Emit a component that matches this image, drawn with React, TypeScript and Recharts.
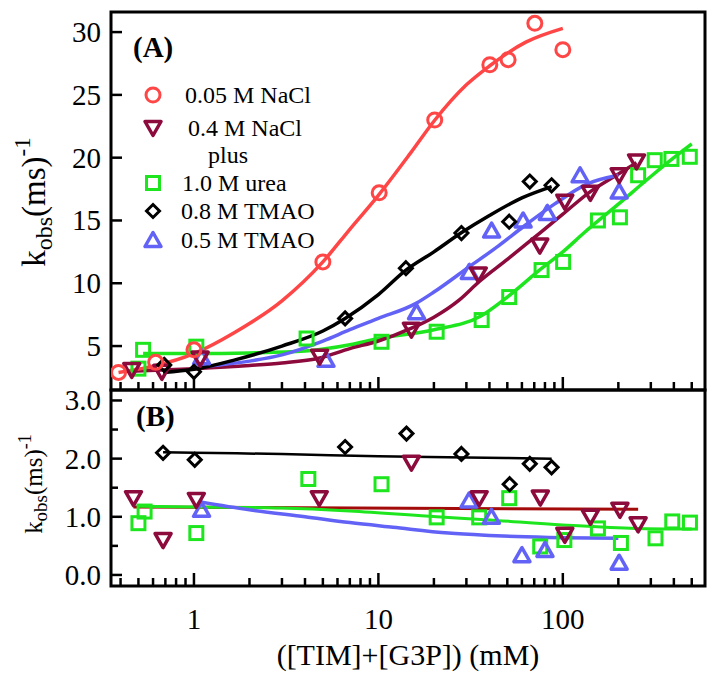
import React from 'react';
import { ComposedChart, Line, Scatter, XAxis, YAxis, ReferenceArea } from 'recharts';

const FONT = '"Liberation Serif", "Times New Roman", serif';

// x axis (log), shared by both panels
const X_MIN = 0.355;
const X_MAX = 590;
const xTicks = [0.4, 0.5, 0.6, 0.7, 0.8, 0.9, 1, 2, 3, 4, 5, 6, 7, 8, 9, 10, 20, 30, 40, 50, 60, 70, 80, 90, 100, 200, 300, 400, 500];
const xLabelTicks = [1, 10, 100];

// panel A
const yTicksA = [5, 10, 15, 20, 25, 30];

const redX = [0.39, 0.62, 1.0, 5.0, 10.1, 20.2, 40.2, 50.5, 70.5, 100];
const redY = [2.9, 3.7, 4.7, 11.7, 17.2, 23.0, 27.4, 27.8, 30.7, 28.6];
const redFitX = [0.39, 0.6, 1, 1.67, 3, 5, 7, 10, 15, 20, 30, 40, 63, 100];
const redFitY = [2.9, 3.4, 4.4, 6.1, 8.6, 11.7, 14.3, 17.0, 20.4, 22.9, 25.8, 27.3, 29.2, 30.3];

const maroonX = [0.46, 0.67, 1.08, 4.8, 15.1, 34.8, 75, 102.5, 141, 202, 251];
const maroonY = [3.1, 2.95, 4.0, 4.15, 6.3, 10.7, 13.0, 16.5, 17.2, 18.6, 19.7];
const maroonFitX = [0.45, 1, 2, 3, 4.8, 7, 10, 15, 20, 27.6, 35, 50, 75, 100, 141, 200, 251];
const maroonFitY = [3.0, 3.2, 3.45, 3.65, 4.05, 4.8, 5.4, 6.4, 7.3, 8.7, 10.1, 11.9, 14.0, 15.5, 17.3, 18.7, 19.6];

const greenX = [0.5, 0.53, 1.03, 4.08, 10.4, 20.7, 36.3, 51.2, 76.7, 100.4, 155, 204, 256, 315, 388, 488];
const greenY = [3.2, 4.7, 4.95, 5.6, 5.34, 6.14, 7.07, 8.9, 11.05, 11.7, 15.0, 15.25, 18.6, 19.8, 19.9, 20.07];
const greenFitX = [0.53, 1, 2, 4, 7, 10, 20, 36, 50, 77, 100, 130, 200, 300, 400, 500];
const greenFitY = [4.4, 4.4, 4.45, 4.6, 5.1, 5.6, 6.3, 7.4, 8.9, 11.2, 12.5, 14.0, 16.3, 18.5, 20.0, 21.1];

const blackX = [0.69, 1.0, 6.6, 14.1, 28.2, 51.2, 66.2, 86.9];
const blackY = [3.5, 2.95, 7.2, 11.2, 14.0, 14.9, 18.1, 17.8];
const blackFitX = [0.68, 1, 1.67, 3, 5, 6.6, 10, 14, 20, 28, 40, 60, 87];
const blackFitY = [2.9, 3.15, 3.9, 5.0, 6.2, 7.2, 9.1, 11.0, 12.5, 14.0, 15.4, 16.8, 17.7];

const blueX = [1.1, 5.2, 16.1, 31.1, 41.1, 60.9, 82.4, 124, 202];
const blueY = [4.1, 3.9, 7.7, 10.9, 14.2, 15.0, 15.6, 18.6, 17.3];
const blueFitX = [1.0, 2, 3, 5, 7, 10, 16, 20, 31, 45, 61, 90, 135, 200];
const blueFitY = [3.3, 3.8, 4.3, 5.4, 6.3, 7.2, 8.4, 9.3, 11.3, 13.0, 14.5, 16.3, 17.9, 18.6];

// panel B
const yTicksB = [0, 0.5, 1, 1.5, 2, 2.5, 3];

const blackBX = [0.68, 1.01, 6.6, 14.2, 28.2, 51.5, 66.2, 86.9];
const blackBY = [2.10, 1.98, 2.20, 2.43, 2.08, 1.56, 1.91, 1.85];
const blackBFitX = [0.68, 1, 3, 10, 30, 87];
const blackBFitY = [2.11, 2.10, 2.08, 2.04, 2.02, 2.0];

const greenBX = [0.5, 0.54, 1.03, 4.17, 10.4, 20.7, 35.2, 51.2, 75.4, 101.9, 155, 206.5, 318, 392, 489];
const greenBY = [0.89, 1.09, 0.72, 1.65, 1.56, 0.99, 0.99, 1.32, 0.49, 0.60, 0.80, 0.55, 0.63, 0.92, 0.90];
const greenBFitX = [0.5, 1, 3, 7, 20.7, 38, 100, 250, 500];
const greenBFitY = [1.18, 1.17, 1.15, 1.10, 1.0, 0.95, 0.86, 0.80, 0.79];

const maroonBX = [0.47, 0.68, 1.03, 4.78, 15.1, 35.2, 75.5, 102.5, 141, 204, 256];
const maroonBY = [1.32, 0.60, 1.29, 1.32, 1.93, 1.32, 1.33, 0.69, 1.0, 1.12, 0.87];
const maroonBFitX = [0.47, 256];
const maroonBFitY = [1.17, 1.13];

const blueBX = [1.1, 31, 41, 60, 80, 202];
const blueBY = [1.12, 1.28, 1.0, 0.34, 0.43, 0.21];
const blueBFitX = [1.07, 2, 4, 7, 12, 24, 40, 56, 100, 200];
const blueBFitY = [1.26, 1.12, 1.0, 0.90, 0.82, 0.72, 0.68, 0.66, 0.64, 0.63];

const RED = '#ff4646';
const MAROON = '#8c0a3c';
const MAROON_LINE = '#a30a0a';
const GREEN = '#1ee61e';
const BLACK = '#000000';
const BLUE = '#6262f6';

const zip = (xs: number[], ys: number[]) => xs.map((x, i) => ({ x, y: ys[i] }));

type Kind = 'circle' | 'down' | 'square' | 'diamond' | 'up';

function Marker({ kind, cx, cy, color }: { kind: Kind; cx: number; cy: number; color: string }) {
  const sw = 3;
  if (kind === 'circle') return <circle cx={cx} cy={cy} r={7} fill="none" stroke={color} strokeWidth={sw} />;
  if (kind === 'square') return <rect x={cx - 6.5} y={cy - 6.5} width={13} height={13} fill="none" stroke={color} strokeWidth={sw} />;
  if (kind === 'diamond') {
    const d = 6.5;
    return <polygon points={`${cx},${cy - d} ${cx + d},${cy} ${cx},${cy + d} ${cx - d},${cy}`} fill="none" stroke={color} strokeWidth={sw} />;
  }
  if (kind === 'down') {
    return <polygon points={`${cx - 8},${cy - 6.5} ${cx + 8},${cy - 6.5} ${cx},${cy + 7.5}`} fill="none" stroke={color} strokeWidth={3.5} strokeLinejoin="round" />;
  }
  return <polygon points={`${cx - 8},${cy + 6.5} ${cx + 8},${cy + 6.5} ${cx},${cy - 7.5}`} fill="none" stroke={color} strokeWidth={3.5} strokeLinejoin="round" />;
}

const shapeOf = (kind: Kind, color: string) => (p: any) => <Marker kind={kind} cx={p.cx} cy={p.cy} color={color} />;

// axis sizes; the plot edge sits at the inner side of each axis box
const Y_AXIS_W = 60;
const X_AXIS_H = 60;

// ticks point inward, labels sit outside
const XTick = ({ x, y, payload, withLabel }: any) => {
  const v = payload.value;
  const major = xLabelTicks.includes(v);
  return (
    <g>
      <line x1={x} x2={x} y1={y} y2={y - (major ? 13 : 8)} stroke="#000" strokeWidth={2.5} />
      {withLabel && major ? (
        <text x={x} y={y + 43} textAnchor="middle" fontFamily={FONT} fontSize={29} fill="#000">{v}</text>
      ) : null}
    </g>
  );
};

const YTickA = ({ x, y, payload }: any) => (
  <g>
    <line x1={x} x2={x + 11} y1={y} y2={y} stroke="#000" strokeWidth={2.5} />
    <text x={x - 10} y={y + 10} textAnchor="end" fontFamily={FONT} fontSize={29} fill="#000">{payload.value}</text>
  </g>
);

const YTickB = ({ x, y, payload }: any) => {
  const v = payload.value;
  const major = Number.isInteger(v);
  return (
    <g>
      <line x1={x} x2={x + (major ? 11 : 7)} y1={y} y2={y} stroke="#000" strokeWidth={2.5} />
      {major ? (
        <text x={x - 10} y={y + 10} textAnchor="end" fontFamily={FONT} fontSize={29} fill="#000">{v.toFixed(1)}</text>
      ) : null}
    </g>
  );
};

const fitLine = (xs: number[], ys: number[], color: string, w: number) => (
  <Line data={zip(xs, ys)} dataKey="y" type="monotone" stroke={color} strokeWidth={w} dot={false} isAnimationActive={false} />
);

const pts = (xs: number[], ys: number[], kind: Kind, color: string) => (
  <Scatter data={zip(xs, ys)} dataKey="y" shape={shapeOf(kind, color)} isAnimationActive={false} />
);

function LegendRow({ y, kind, color, label, tx }: { y: number; kind: Kind; color: string; label: string; tx: number }) {
  return (
    <g>
      <Marker kind={kind} cx={153} cy={y} color={color} />
      <text x={tx} y={y + 8} fontFamily={FONT} fontSize={24} fill="#000">{label}</text>
    </g>
  );
}

export default function App() {
  const xAxisCommon = {
    dataKey: 'x',
    type: 'number' as const,
    scale: 'log' as const,
    domain: [X_MIN, X_MAX],
    allowDataOverflow: true,
    ticks: xTicks,
    interval: 0 as const,
    axisLine: false,
    tickLine: false,
    tickSize: 0,
    tickMargin: 0,
    height: X_AXIS_H,
  };

  return (
    <div style={{ position: 'absolute', left: 0, top: 0, width: 714, height: 681, background: '#fff' }}>
      <div style={{ position: 'absolute', left: 0, top: 0 }}>
        <ComposedChart width={714} height={681} margin={{ top: 12, right: 9, bottom: 291 - X_AXIS_H, left: 111 - Y_AXIS_W }}>
          <XAxis {...xAxisCommon} tick={(p: any) => <XTick {...p} withLabel={false} />} />
          <YAxis dataKey="y" type="number" domain={[1.5, 31.6]} allowDataOverflow ticks={yTicksA} interval={0}
            axisLine={false} tickLine={false} tickSize={0} tickMargin={0} width={Y_AXIS_W} tick={(p: any) => <YTickA {...p} />} />
          <ReferenceArea x1={X_MIN} x2={X_MAX} y1={1.5} y2={31.6} fill="none" stroke="#000" strokeWidth={3} ifOverflow="visible" />
          {fitLine(greenFitX, greenFitY, GREEN, 3.5)}
          {fitLine(maroonFitX, maroonFitY, MAROON, 3.5)}
          {fitLine(blueFitX, blueFitY, BLUE, 3.5)}
          {fitLine(blackFitX, blackFitY, BLACK, 3.5)}
          {fitLine(redFitX, redFitY, RED, 3.5)}
          {pts(greenX, greenY, 'square', GREEN)}
          {pts(blueX, blueY, 'up', BLUE)}
          {pts(maroonX, maroonY, 'down', MAROON)}
          {pts(blackX, blackY, 'diamond', BLACK)}
          {pts(redX, redY, 'circle', RED)}
        </ComposedChart>
      </div>
      <div style={{ position: 'absolute', left: 0, top: 0 }}>
        <ComposedChart width={714} height={681} margin={{ top: 390, right: 9, bottom: 95 - X_AXIS_H, left: 111 - Y_AXIS_W }}>
          <XAxis {...xAxisCommon} tick={(p: any) => <XTick {...p} withLabel />} />
          <YAxis dataKey="y" type="number" domain={[-0.19, 3.18]} allowDataOverflow ticks={yTicksB} interval={0}
            axisLine={false} tickLine={false} tickSize={0} tickMargin={0} width={Y_AXIS_W} tick={(p: any) => <YTickB {...p} />} />
          <ReferenceArea x1={X_MIN} x2={X_MAX} y1={-0.19} y2={3.18} fill="none" stroke="#000" strokeWidth={3} ifOverflow="visible" />
          {fitLine(blackBFitX, blackBFitY, BLACK, 2.5)}
          {fitLine(maroonBFitX, maroonBFitY, MAROON_LINE, 3)}
          {fitLine(greenBFitX, greenBFitY, GREEN, 3)}
          {fitLine(blueBFitX, blueBFitY, BLUE, 3.5)}
          {pts(greenBX, greenBY, 'square', GREEN)}
          {pts(blueBX, blueBY, 'up', BLUE)}
          {pts(maroonBX, maroonBY, 'down', MAROON)}
          {pts(blackBX, blackBY, 'diamond', BLACK)}
        </ComposedChart>
      </div>
      <svg width={714} height={681} style={{ position: 'absolute', left: 0, top: 0, pointerEvents: 'none' }}>
        <text x={133} y={57} fontFamily={FONT} fontSize={29} fontWeight="bold" fill="#000">(A)</text>
        <text x={136} y={426} fontFamily={FONT} fontSize={29} fontWeight="bold" fill="#000">(B)</text>
        <LegendRow y={95} kind="circle" color={RED} label="0.05 M NaCl" tx={185} />
        <LegendRow y={128} kind="down" color={MAROON} label="0.4 M NaCl" tx={188} />
        <text x={208} y={163} fontFamily={FONT} fontSize={24} fill="#000">plus</text>
        <LegendRow y={183} kind="square" color={GREEN} label="1.0 M urea" tx={182} />
        <LegendRow y={211} kind="diamond" color={BLACK} label="0.8 M TMAO" tx={181} />
        <LegendRow y={240} kind="up" color={BLUE} label="0.5 M TMAO" tx={181} />
        <text transform="rotate(-90, 45, 202)" x={45} y={202} textAnchor="middle" fontFamily={FONT} fontSize={33} fill="#000">
          k<tspan fontSize={24} dy={7}>obs</tspan><tspan dy={-7}>(ms)</tspan><tspan fontSize={23} dy={-15}>-1</tspan>
        </text>
        <text transform="rotate(-90, 42, 484)" x={42} y={484} textAnchor="middle" fontFamily={FONT} fontSize={25} fill="#000">
          k<tspan fontSize={19} dy={5}>obs</tspan><tspan dy={-5}>(ms)</tspan><tspan fontSize={18} dy={-11}>-1</tspan>
        </text>
        <text x={408} y={665} textAnchor="middle" fontFamily={FONT} fontSize={30} fill="#000">([TIM]+[G3P]) (mM)</text>
      </svg>
    </div>
  );
}
